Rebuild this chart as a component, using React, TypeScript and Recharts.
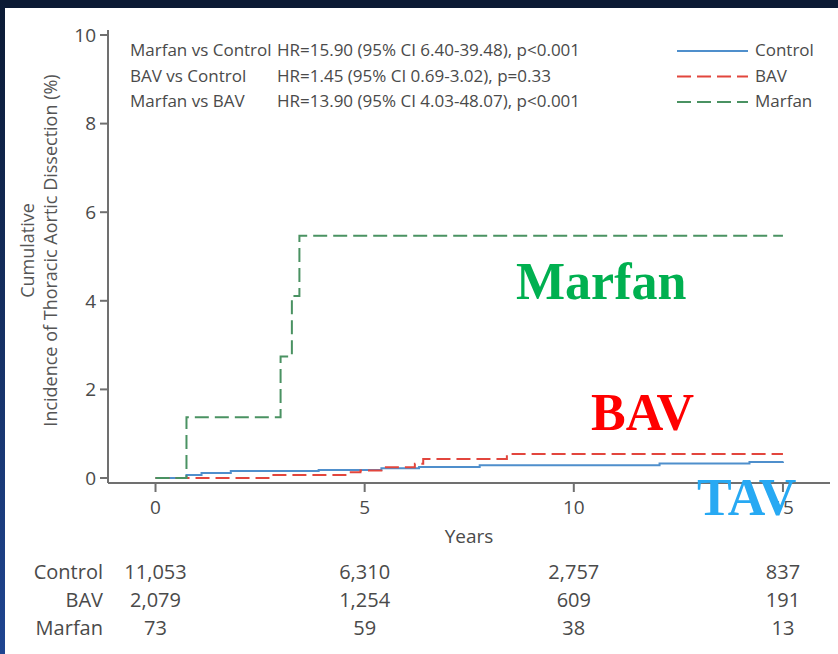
import { LineChart, Line, XAxis, YAxis } from "recharts"

// Kaplan-Meier steps (years, cumulative %)
const controlYears = [0, 0.74, 1.1, 1.8, 3.9, 5.4, 6.3, 7.75, 12.05, 14.2, 15]
const controlPct = [0, 0.07, 0.11, 0.16, 0.18, 0.22, 0.25, 0.29, 0.33, 0.36, 0.37]

const bavYears = [0, 2.7, 4.6, 4.9, 5.4, 6.2, 6.4, 8.4, 15]
const bavPct = [0, 0.07, 0.13, 0.17, 0.24, 0.32, 0.43, 0.54, 0.54]

const marfanYears = [0, 0.74, 2.99, 3.26, 3.44, 15]
const marfanPct = [0, 1.37, 2.74, 4.11, 5.47, 5.47]

const xTicks = [0, 5, 10, 15]
const yTicks = [0, 2, 4, 6, 8, 10]

// numbers at risk
const riskGroups = ["Control", "BAV", "Marfan"]
const riskControl = ["11,053", "6,310", "2,757", "837"]
const riskBav = ["2,079", "1,254", "609", "191"]
const riskMarfan = ["73", "59", "38", "13"]

const hrComparisons = ["Marfan vs Control", "BAV vs Control", "Marfan vs BAV"]
const hrResults = [
  "HR=15.90 (95% CI 6.40-39.48), p<0.001",
  "HR=1.45 (95% CI 0.69-3.02), p=0.33",
  "HR=13.90 (95% CI 4.03-48.07), p<0.001",
]

const FONT = "'Open Sans', 'DejaVu Sans', sans-serif"
const SERIF = "'Liberation Serif', 'DejaVu Serif', serif"
const AXIS = "#707070"
const TEXT = "#4a4a4a"

const toPoints = (years: number[], pct: number[]) => years.map((t, i) => ({ t, v: pct[i] }))

const series = [
  { name: "Control", data: toPoints(controlYears, controlPct), color: "#4f8fcc", dash: undefined as string | undefined },
  { name: "BAV", data: toPoints(bavYears, bavPct), color: "#e2463d", dash: "14 6" },
  { name: "Marfan", data: toPoints(marfanYears, marfanPct), color: "#4a9262", dash: "14 6" },
]

const riskRows = [riskControl, riskBav, riskMarfan]

const X_DOMAIN: [number, number] = [-1.136, 16.125]
const Y_DOMAIN: [number, number] = [-0.113, 10.113]

// year tick plus the numbers at risk underneath it
function YearTick(props: any) {
  const { x, y, payload } = props
  const idx = xTicks.indexOf(payload.value)
  return (
    <g fontFamily={FONT} textAnchor="middle">
      <text x={x} y={y} dy="0.71em" fill={TEXT} fontSize={19}>
        {payload.value}
      </text>
      {riskRows.map((row, r) => (
        <text key={r} x={x} y={y + 64 + r * 28} dy="0.71em" fill={TEXT} fontSize={20}>
          {row[idx]}
        </text>
      ))}
    </g>
  )
}

export default function App() {
  return (
    <div style={{ position: "absolute", left: 0, top: 0, width: 838, height: 654, background: "#0b1a34", overflow: "hidden" }}>
      <div
        style={{
          position: "absolute",
          left: 0,
          top: 0,
          width: 5,
          height: 654,
          background: "linear-gradient(to bottom, #0b1a34, #1f4591)",
        }}
      />
      <div style={{ position: "absolute", left: 5, top: 8, right: 0, bottom: 0, background: "#ffffff" }} />

      <div style={{ position: "absolute", left: 0, top: 0 }}>
        <LineChart width={838} height={654} margin={{ top: 30, right: 8, left: 48, bottom: 22 }} style={{ fontFamily: FONT }}>
          <XAxis
            type="number"
            dataKey="t"
            domain={X_DOMAIN}
            allowDataOverflow
            ticks={xTicks}
            interval={0}
            height={65}
            tickSize={9}
            tickMargin={9}
            stroke={AXIS}
            strokeWidth={2}
            tick={<YearTick />}
            label={{
              content: (p: any) => {
                const vb = p.viewBox || { x: 108, y: 483, width: 722, height: 65 }
                return (
                  <text x={vb.x + vb.width / 2} y={vb.y + vb.height - 5} textAnchor="middle" fill={TEXT} fontSize={19} fontFamily={FONT}>
                    Years
                  </text>
                )
              },
            }}
          />
          {riskGroups.map((g, r) => (
            <XAxis
              key={g}
              xAxisId={`risk${r}`}
              type="number"
              domain={X_DOMAIN}
              allowDataOverflow
              height={28}
              axisLine={false}
              tickLine={false}
              tick={false}
              label={{
                content: (p: any) => {
                  const vb = p.viewBox || { x: 108, y: 548 + r * 28, width: 722, height: 28 }
                  return (
                    <text x={vb.x - 5} y={vb.y + 31} textAnchor="end" fill={TEXT} fontSize={20} fontFamily={FONT}>
                      {g}
                    </text>
                  )
                },
              }}
            />
          ))}
          <XAxis xAxisId="top" orientation="top" type="number" domain={[0, 1]} height={0} tick={false} tickLine={false} stroke={AXIS} strokeWidth={2} />
          <YAxis
            type="number"
            domain={Y_DOMAIN}
            allowDataOverflow
            ticks={yTicks}
            interval={0}
            width={60}
            tickSize={8}
            tickMargin={4}
            stroke={AXIS}
            strokeWidth={2}
            tick={{ fill: TEXT, fontSize: 19, fontFamily: FONT }}
            label={{
              content: (p: any) => {
                const vb = p.viewBox || { x: 48, y: 30, width: 60, height: 453 }
                const cy = vb.y + vb.height / 2 - 6
                const x1 = vb.x - 21
                const x2 = vb.x + 2
                return (
                  <g fill="#555" fontSize={18} fontFamily={FONT}>
                    <text x={x1} y={cy} textAnchor="middle" dominantBaseline="central" transform={`rotate(-90 ${x1} ${cy})`}>
                      Cumulative
                    </text>
                    <text x={x2} y={cy} textAnchor="middle" dominantBaseline="central" transform={`rotate(-90 ${x2} ${cy})`}>
                      Incidence of Thoracic Aortic Dissection (%)
                    </text>
                  </g>
                )
              },
            }}
          />
          <YAxis yAxisId="right" orientation="right" type="number" domain={[0, 1]} width={0} tick={false} tickLine={false} stroke={AXIS} strokeWidth={2} />
          {series.map((s) => (
            <Line
              key={s.name}
              data={s.data}
              dataKey="v"
              name={s.name}
              type="stepAfter"
              stroke={s.color}
              strokeWidth={2}
              strokeDasharray={s.dash}
              dot={false}
              activeDot={false}
              isAnimationActive={false}
            />
          ))}
        </LineChart>
      </div>

      <svg width={838} height={654} style={{ position: "absolute", left: 0, top: 0, pointerEvents: "none" }}>
        <g fill={TEXT} fontSize={17} fontFamily={FONT}>
          {hrComparisons.map((c, i) => (
            <text key={c} x={130} y={56 + i * 25.5}>
              {c}
            </text>
          ))}
          {hrResults.map((h, i) => (
            <text key={h} x={277} y={56 + i * 25.5}>
              {h}
            </text>
          ))}
        </g>
        {series.map((s, i) => (
          <g key={s.name}>
            <line x1={677} x2={748} y1={51 + i * 25.5} y2={51 + i * 25.5} stroke={s.color} strokeWidth={2} strokeDasharray={s.dash} />
            <text x={755} y={56 + i * 25.5} fill={TEXT} fontSize={17} fontFamily={FONT}>
              {s.name}
            </text>
          </g>
        ))}
        <g fontFamily={SERIF} fontWeight="bold" fontSize={52}>
          <text x={516} y={299} fill="#00b050">
            Marfan
          </text>
          <text x={591} y={430} fill="#ff0000">
            BAV
          </text>
          <text x={697} y={515} fill="#27a9f3">
            TAV
          </text>
        </g>
      </svg>
    </div>
  )
}
